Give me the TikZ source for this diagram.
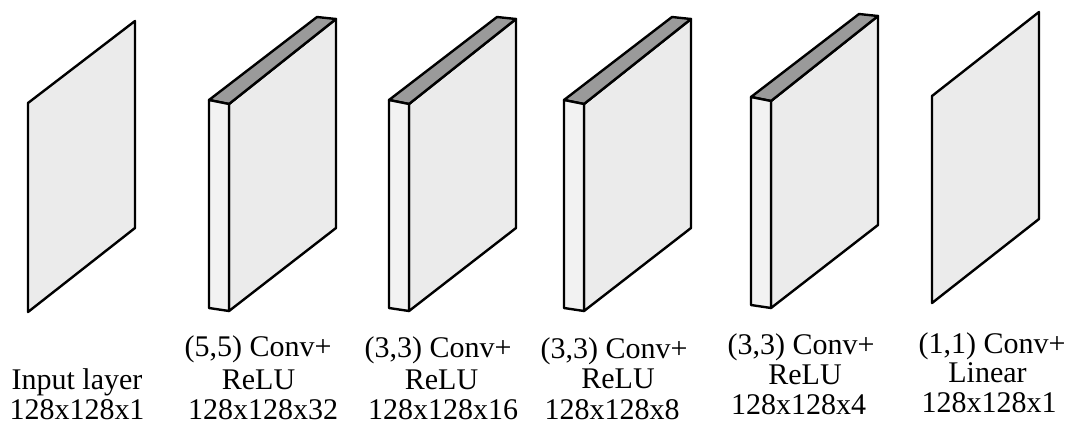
\documentclass[tikz,border=0pt]{standalone}
\usepackage{fontspec}
\setmainfont{Liberation Serif}
\definecolor{facegray}{HTML}{EBEBEB}
\definecolor{stripgray}{HTML}{F2F2F2}
\definecolor{topgray}{HTML}{9A9A9A}
\tikzset{
  edge/.style={draw=black, line width=2.4pt, line join=round},
  face/.style={edge, fill=facegray},
  strip/.style={edge, fill=stripgray},
  topface/.style={edge, fill=topgray},
  lbl/.style={inner sep=0pt, anchor=base, font=\fontsize{30}{32}\selectfont}
}
% conv block: #1 name, #2 left x, #3 top y, #4 bottom y
\newcommand{\convblockdraw}[4]{%
  \coordinate (#1fl) at (#2,#3);
  \coordinate (#1fr) at (#2+20,#3+4);
  \coordinate (#1bl) at (#2,#4);
  \coordinate (#1br) at (#2+20,#4+3);
  \coordinate (#1tl) at (#2+108,#3-83);
  \coordinate (#1tr) at (#2+127,#3-81);
  \coordinate (#1mb) at (#2+127,#4-80);
  \path[face] (#1fr) -- (#1tr) -- (#1mb) -- (#1br) -- cycle;
  \path[topface] (#1fl) -- (#1tl) -- (#1tr) -- (#1fr) -- cycle;
  \path[strip] (#1fl) -- (#1fr) -- (#1br) -- (#1bl) -- cycle;
}
\begin{document}
\begin{tikzpicture}[x=1pt,y=-1pt]
\useasboundingbox (0,0) rectangle (1069,424);
% input layer
\coordinate (in1) at (28,103);
\coordinate (in2) at (135,21);
\coordinate (in3) at (135,228);
\coordinate (in4) at (28,312);
\path[face] (in1) -- (in2) -- (in3) -- (in4) -- cycle;
% conv blocks
\convblockdraw{ca}{209}{100}{308}
\convblockdraw{cb}{389}{100}{308}
\convblockdraw{cc}{564}{100}{308}
\convblockdraw{cd}{751}{97}{305}
% output layer
\coordinate (out1) at (932,96);
\coordinate (out2) at (1039,12);
\coordinate (out3) at (1039,219);
\coordinate (out4) at (932,303);
\path[face] (out1) -- (out2) -- (out3) -- (out4) -- cycle;
% labels
\node[lbl] (la1) at (77,389) {Input layer};
\node[lbl] (la2) at (77,419) {128x128x1};
\node[lbl] (lb1) at (258,356) {(5,5) Conv+};
\node[lbl] (lb2) at (258.5,389) {ReLU};
\node[lbl] (lb3) at (263,419) {128x128x32};
\node[lbl] (lc1) at (438,357) {(3,3) Conv+};
\node[lbl] (lc2) at (441.5,389) {ReLU};
\node[lbl] (lc3) at (443,419) {128x128x16};
\node[lbl] (ld1) at (614,358) {(3,3) Conv+};
\node[lbl] (ld2) at (618,388) {ReLU};
\node[lbl] (ld3) at (612,419) {128x128x8};
\node[lbl] (le1) at (801,354) {(3,3) Conv+};
\node[lbl] (le2) at (805,384) {ReLU};
\node[lbl] (le3) at (798.5,414) {128x128x4};
\node[lbl] (lf1) at (992,353) {(1,1) Conv+};
\node[lbl] (lf2) at (987.5,382) {Linear};
\node[lbl] (lf3) at (989,412) {128x128x1};
\end{tikzpicture}
\end{document}
